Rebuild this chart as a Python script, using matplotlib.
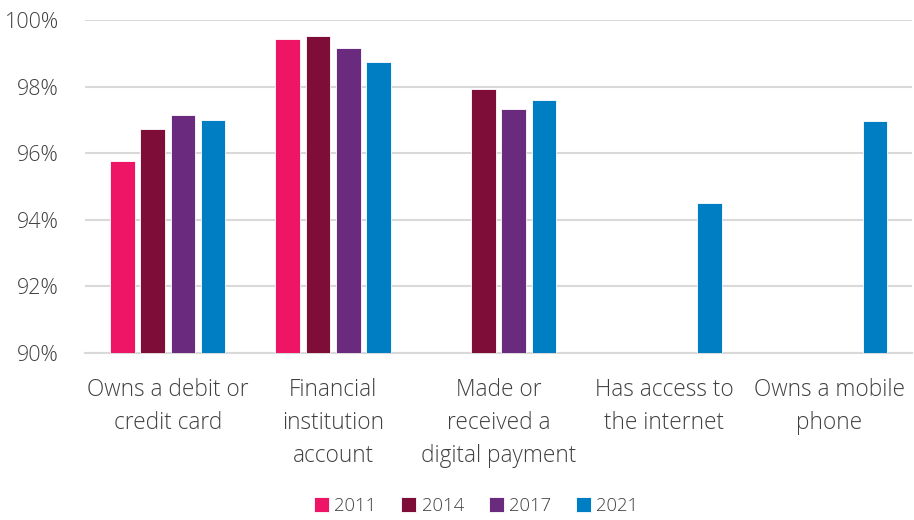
import matplotlib
matplotlib.use("Agg")
import matplotlib.pyplot as plt
import numpy as np
from matplotlib import font_manager

categories = ["Owns a debit or\ncredit card", "Financial\ninstitution\naccount",
              "Made or\nreceived a\ndigital payment", "Has access to\nthe internet",
              "Owns a mobile\nphone"]
years = ["2011", "2014", "2017", "2021"]
v2011 = [95.77, 99.43, np.nan, np.nan, np.nan]
v2014 = [96.72, 99.52, 97.93, np.nan, np.nan]
v2017 = [97.15, 99.17, 97.33, np.nan, np.nan]
v2021 = [97.00, 98.75, 97.60, 94.50, 96.97]
series = [v2011, v2014, v2017, v2021]
colors = ["#EE1566", "#7E0E38", "#6A2A7E", "#007EC4"]

names = {f.name for f in font_manager.fontManager.ttflist}
fam = "Open Sans" if "Open Sans" in names else "DejaVu Sans"
plt.rcParams['font.family'] = [fam, 'DejaVu Sans']

fig = plt.figure(figsize=(9.14, 5.2), dpi=100)
ax = fig.add_axes([0.093, 0.321, 0.905, 0.6405])

x = np.arange(len(categories))
step = 0.183
width = 0.148
for i, (vals, c, yr) in enumerate(zip(series, colors, years)):
    offs = (i - 1.5) * step
    vals = np.array(vals, dtype=float)
    ax.bar(x + offs, vals - 90, bottom=90, width=width, color=c, label=yr,
           edgecolor="white", linewidth=0.6, zorder=3)

ax.set_xlim(-0.5, len(categories) - 0.5)
ax.set_ylim(90, 100)
ax.set_yticks([90, 92, 94, 96, 98, 100])
ax.set_yticklabels([f"{t}%" for t in [90, 92, 94, 96, 98, 100]])
ax.yaxis.grid(True, color="#D9D9D9", linewidth=1.5, zorder=0)
ax.set_axisbelow(True)
for s in ["top", "right", "left"]:
    ax.spines[s].set_visible(False)
ax.spines["bottom"].set_color("#D9D9D9")
ax.spines["bottom"].set_linewidth(1.5)
ax.tick_params(axis="both", length=0, colors="#404040")
ax.tick_params(axis="x", labelsize=16.3, pad=18)
ax.tick_params(axis="y", labelsize=15.5, pad=19)
ax.set_xticks(x)
ax.set_xticklabels(categories, linespacing=1.5, fontweight="light")
for lab in ax.get_yticklabels():
    lab.set_fontweight("light")

leg = fig.legend(loc="center", bbox_to_anchor=(0.521, 0.027), ncol=4, frameon=False,
                 handlelength=0.8, handleheight=0.8, handletextpad=0.3,
                 columnspacing=1.35, prop={"size": 13.3, "weight": "light"})
for t in leg.get_texts():
    t.set_color("#404040")

fig.savefig("out.png", dpi=100)
